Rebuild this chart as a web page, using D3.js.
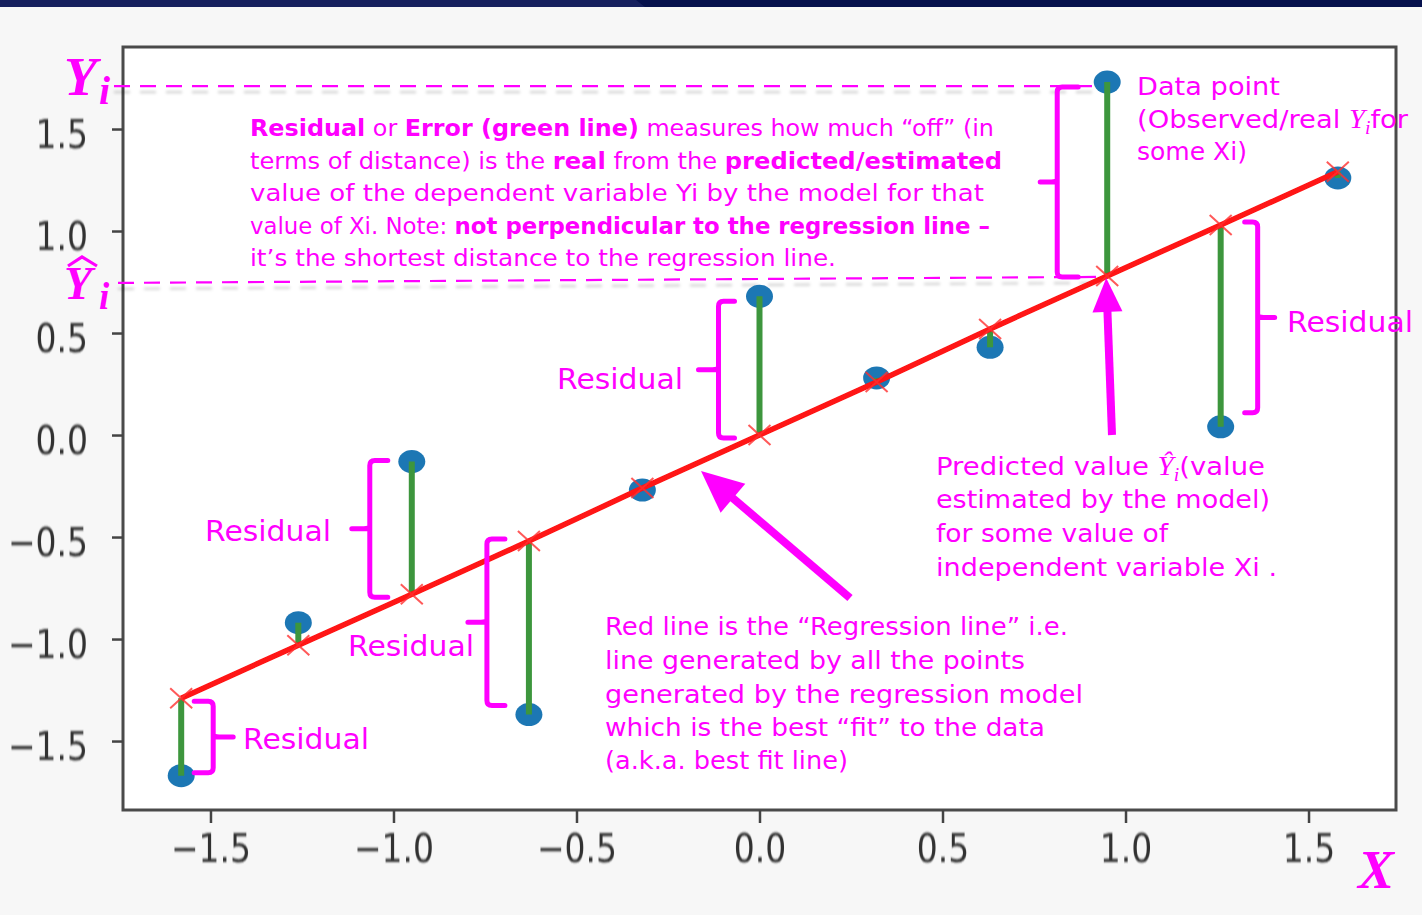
<!DOCTYPE html>
<html><head><meta charset="utf-8">
<script src="https://cdn.jsdelivr.net/npm/d3@7"></script>
<style>html,body{margin:0;padding:0;background:#f7f7f7;overflow:hidden}svg{display:block}</style>
</head><body><svg id="chart" width="1422" height="915"></svg>
<script>
// ---- data ----
const xValues    = [-1.58, -1.26, -0.95, -0.63, -0.32, 0.00, 0.32, 0.63, 0.95, 1.26, 1.58];
const yObserved  = [-1.67, -0.92, -0.13, -1.37, -0.27, 0.68, 0.28, 0.43, 1.73, 0.04, 1.26];
const yPredicted = [-1.29, -1.03, -0.78, -0.52, -0.26, 0.00, 0.26, 0.52, 0.78, 1.03, 1.29];
const xTicks = [-1.5, -1.0, -0.5, 0.0, 0.5, 1.0, 1.5];
const yTicks = [-1.5, -1.0, -0.5, 0.0, 0.5, 1.0, 1.5];

const MAG = "#ff00ff";
const svg = d3.select("#chart");
const W = 1422, H = 915;
const plot = {left: 123, right: 1396, top: 47, bottom: 810};

const x = d3.scaleLinear().domain([-1.739, 1.739]).range([plot.left, plot.right]);
const y = d3.scaleLinear().domain([-1.838, 1.902]).range([plot.bottom, plot.top]);

const defs = svg.append("defs");
defs.append("filter").attr("id", "soft").attr("x", "-10%").attr("y", "-10%").attr("width", "120%").attr("height", "120%")
  .append("feGaussianBlur").attr("stdDeviation", 0.7);
const sh = defs.append("filter").attr("id", "shadow").attr("x", "-5%").attr("y", "-50%").attr("width", "110%").attr("height", "300%");
sh.append("feDropShadow").attr("dx", 0).attr("dy", 6).attr("stdDeviation", 1.6)
  .attr("flood-color", "#000").attr("flood-opacity", 0.18);

// background & top band
svg.append("rect").attr("width", W).attr("height", H).attr("fill", "#f7f7f7");
svg.append("rect").attr("width", W).attr("height", 7).attr("fill", "#06114d");
svg.append("polygon").attr("points", "0,0 636,0 645,7 0,7").attr("fill", "#16205e");

// plot frame
svg.append("rect").attr("x", plot.left).attr("y", plot.top)
  .attr("width", plot.right - plot.left).attr("height", plot.bottom - plot.top)
  .attr("fill", "#fff");
svg.append("line").attr("x1", plot.left).attr("x2", plot.right).attr("y1", plot.top).attr("y2", plot.top)
  .attr("stroke", "#4a4a4a").attr("stroke-width", 3).attr("filter", "url(#shadow)");
svg.append("rect").attr("x", plot.left).attr("y", plot.top)
  .attr("width", plot.right - plot.left).attr("height", plot.bottom - plot.top)
  .attr("fill", "none").attr("stroke", "#4a4a4a").attr("stroke-width", 3);

// axes
const fmt = d3.format(".1f");
const gx = svg.append("g").attr("transform", `translate(0,${plot.bottom})`)
  .call(d3.axisBottom(x).tickValues(xTicks).tickFormat(fmt).tickSize(13).tickPadding(0));
gx.select(".domain").remove();
gx.selectAll(".tick line").attr("stroke", "#444").attr("stroke-width", 2.5);
gx.selectAll(".tick text").attr("y", null).attr("dy", null)
  .attr("transform", "translate(0,52) scale(1,1.2)")
  .attr("font-family", "DejaVu Sans").attr("font-size", 33).attr("fill", "#333")
  .attr("filter", "url(#soft)");

const gy = svg.append("g").attr("transform", `translate(${plot.left},0)`)
  .call(d3.axisLeft(y).tickValues(yTicks).tickFormat(fmt).tickSize(11).tickPadding(0));
gy.select(".domain").remove();
gy.selectAll(".tick line").attr("stroke", "#444").attr("stroke-width", 2.5);
gy.selectAll(".tick text").attr("x", null).attr("dy", null)
  .attr("text-anchor", "end")
  .attr("transform", "translate(-35,18) scale(1,1.2)")
  .attr("font-family", "DejaVu Sans").attr("font-size", 33).attr("fill", "#333")
  .attr("filter", "url(#soft)");

// dashed guide lines (Yi and Y-hat i)
const guides = svg.append("g").attr("filter", "url(#shadow)");
guides.append("line").attr("x1", 114).attr("x2", x(xValues[8]) - 12)
  .attr("y1", y(yObserved[8]) + 4).attr("y2", y(yObserved[8]) + 4)
  .attr("stroke", MAG).attr("stroke-width", 2.2).attr("stroke-dasharray", "16 10");
guides.append("line").attr("x1", 118).attr("x2", x(xValues[8]) - 6)
  .attr("y1", y(yPredicted[8]) + 7).attr("y2", y(yPredicted[8]) + 1)
  .attr("stroke", MAG).attr("stroke-width", 2.2).attr("stroke-dasharray", "16 10");

// ---- marks ----
const data = xValues.map((v, i) => ({x: v, obs: yObserved[i], pred: yPredicted[i]}));
const marks = svg.append("g").attr("filter", "url(#soft)");
marks.selectAll("ellipse.pt").data(data).join("ellipse").attr("class", "pt")
  .attr("cx", d => x(d.x)).attr("cy", d => y(d.obs)).attr("rx", 13.5).attr("ry", 11.5)
  .attr("fill", "#1f77b4");
marks.selectAll("line.res").data(data).join("line").attr("class", "res")
  .attr("x1", d => x(d.x)).attr("x2", d => x(d.x))
  .attr("y1", d => y(d.obs)).attr("y2", d => y(d.pred))
  .attr("stroke", "#3c963c").attr("stroke-width", 6);
marks.append("path").datum(data)
  .attr("d", d3.line().x(d => x(d.x)).y(d => y(d.pred)))
  .attr("fill", "none").attr("stroke", "#ff1212").attr("stroke-width", 5.5);
marks.selectAll("path.xm").data(data).join("path").attr("class", "xm")
  .attr("transform", d => `translate(${x(d.x)},${y(d.pred)})`)
  .attr("d", "M-11,-10L11,10M-11,10L11,-10")
  .attr("stroke", "#ff3030").attr("stroke-width", 2).attr("opacity", 0.8);

// ---- braces ----
const braces = [
  {i: 0, side: "right", dx: 32, padTop: 3, padBot: -3, arm: 19, nub: 20},
  {i: 2, side: "left", dx: -42, padTop: -1, padBot: 3, arm: 18, nub: 18},
  {i: 3, side: "left", dx: -42, padTop: -2, padBot: -9, arm: 18, nub: 19},
  {i: 5, side: "left", dx: -41, padTop: 5, padBot: 3, arm: 16, nub: 20},
  {i: 8, side: "left", dx: -50, padTop: 5, padBot: 1, arm: 21, nub: 17},
  {i: 9, side: "right", dx: 37, padTop: -3, padBot: -14, arm: 13, nub: 17}
];
const bg = svg.append("g").attr("fill", "none").attr("stroke", MAG).attr("stroke-width", 5)
  .attr("stroke-linecap", "round").attr("stroke-linejoin", "round");
braces.forEach(b => {
  const d = data[b.i];
  const xv = x(d.x) + b.dx;
  const top = Math.min(y(d.obs), y(d.pred)) + b.padTop;
  const bot = Math.max(y(d.obs), y(d.pred)) + b.padBot;
  const mid = (top + bot) / 2;
  const s = b.side === "left" ? 1 : -1; // direction of arms
  const r = 5;
  const p = d3.path();
  p.moveTo(xv + s * b.arm, top);
  p.lineTo(xv + s * r, top);
  p.quadraticCurveTo(xv, top, xv, top + r);
  p.lineTo(xv, bot - r);
  p.quadraticCurveTo(xv, bot, xv + s * r, bot);
  p.lineTo(xv + s * b.arm, bot);
  p.moveTo(xv, mid - 3);
  p.quadraticCurveTo(xv, mid, xv - s * 6, mid);
  p.lineTo(xv - s * b.nub, mid);
  bg.append("path").attr("d", p.toString());
});

// ---- arrows ----
function arrow(x0, y0, x1, y1, headLen, headW, shaftW) {
  const dx = x1 - x0, dy = y1 - y0, L = Math.hypot(dx, dy);
  const ux = dx / L, uy = dy / L, nx = -uy, ny = ux;
  const bx = x1 - ux * headLen, by = y1 - uy * headLen;
  svg.append("line").attr("x1", x0).attr("y1", y0).attr("x2", bx + ux * 2).attr("y2", by + uy * 2)
    .attr("stroke", MAG).attr("stroke-width", shaftW);
  svg.append("polygon").attr("points",
    `${x1},${y1} ${bx + nx * headW / 2},${by + ny * headW / 2} ${bx - nx * headW / 2},${by - ny * headW / 2}`)
    .attr("fill", MAG);
}
arrow(1112, 435, x(xValues[8]) - 1, y(yPredicted[8]) + 2, 34, 30, 8);
arrow(850, 598, 701, 471, 42, 38, 8);

// ---- text annotations ----
const FONT = "DejaVu Sans";
const MATH = "Liberation Serif";
function block(x0, lines, size) {
  lines.forEach(l => {
    const t = svg.append("text").attr("x", x0).attr("y", l.y)
      .attr("font-family", FONT).attr("font-size", size).attr("fill", MAG)
      .attr("textLength", l.w).attr("lengthAdjust", "spacingAndGlyphs");
    l.segs.forEach(sg => {
      const [txt, st] = sg;
      const ts = t.append("tspan").text(txt);
      if (st === "b") ts.attr("font-weight", "bold");
      if (st === "m") ts.attr("font-family", MATH).attr("font-style", "italic").attr("font-size", size * 1.05);
      if (st === "s") ts.attr("font-family", MATH).attr("font-style", "italic").attr("font-size", size * 0.72).attr("dy", 6);
      if (st === "u") ts.attr("dy", -6);
    });
  });
}

block(250, [
  {y: 136, w: 744, segs: [["Residual", "b"], [" or ", "n"], ["Error (green line)", "b"], [" measures how much “off” (in", "n"]]},
  {y: 168.5, w: 752, segs: [["terms of distance) is the ", "n"], ["real", "b"], [" from the ", "n"], ["predicted/estimated", "b"]]},
  {y: 201, w: 734, segs: [["value of the dependent variable Yi by the model for that", "n"]]},
  {y: 233.5, w: 740, segs: [["value of Xi. Note: ", "n"], ["not perpendicular to the regression line –", "b"]]},
  {y: 266, w: 586, segs: [["it’s the shortest distance to the regression line.", "n"]]}
], 22.5);

block(1137, [
  {y: 95, w: 143, segs: [["Data point", "n"]]},
  {y: 128, w: 271, segs: [["(Observed/real ", "n"], ["Y", "m"], ["i", "s"], ["for", "u"]]},
  {y: 160, w: 110, segs: [["some Xi)", "n"]]}
], 25);

block(936, [
  {y: 475, w: 329, segs: [["Predicted value ", "n"], ["Ŷ", "m"], ["i", "s"], ["(value", "u"]]},
  {y: 508, w: 334, segs: [["estimated by the model)", "n"]]},
  {y: 542, w: 232, segs: [["for some value of", "n"]]},
  {y: 576, w: 341, segs: [["independent variable Xi .", "n"]]}
], 25);

block(605, [
  {y: 635, w: 463, segs: [["Red line is the “Regression line” i.e.", "n"]]},
  {y: 669, w: 420, segs: [["line generated by all the points", "n"]]},
  {y: 703, w: 478, segs: [["generated by the regression model", "n"]]},
  {y: 736, w: 440, segs: [["which is the best “fit” to the data", "n"]]},
  {y: 769, w: 243, segs: [["(a.k.a. best fit line)", "n"]]}
], 25);

// "Residual" labels
const resLabels = [[557, 389], [205, 541], [348, 656], [243, 749], [1287, 332]];
resLabels.forEach(([lx, ly]) => {
  svg.append("text").attr("x", lx).attr("y", ly).text("Residual")
    .attr("font-family", FONT).attr("font-size", 29).attr("fill", MAG)
    .attr("textLength", 126).attr("lengthAdjust", "spacingAndGlyphs");
});

// math labels Yi, Y-hat i, X
function mathText(tx, ty, txt, size) {
  return svg.append("text").attr("x", tx).attr("y", ty).text(txt)
    .attr("font-family", MATH).attr("font-style", "italic").attr("font-weight", "bold")
    .attr("font-size", size).attr("fill", MAG);
}
mathText(64, 95, "Y", 54);
mathText(99, 104, "i", 40);
mathText(64, 299, "Y", 46);
mathText(99, 309, "i", 37);
svg.append("path").attr("d", "M68,266 L82,257 L97,266").attr("fill", "none")
  .attr("stroke", MAG).attr("stroke-width", 3.2).attr("stroke-linejoin", "miter");
mathText(1358, 888, "X", 54);
</script></body></html>
